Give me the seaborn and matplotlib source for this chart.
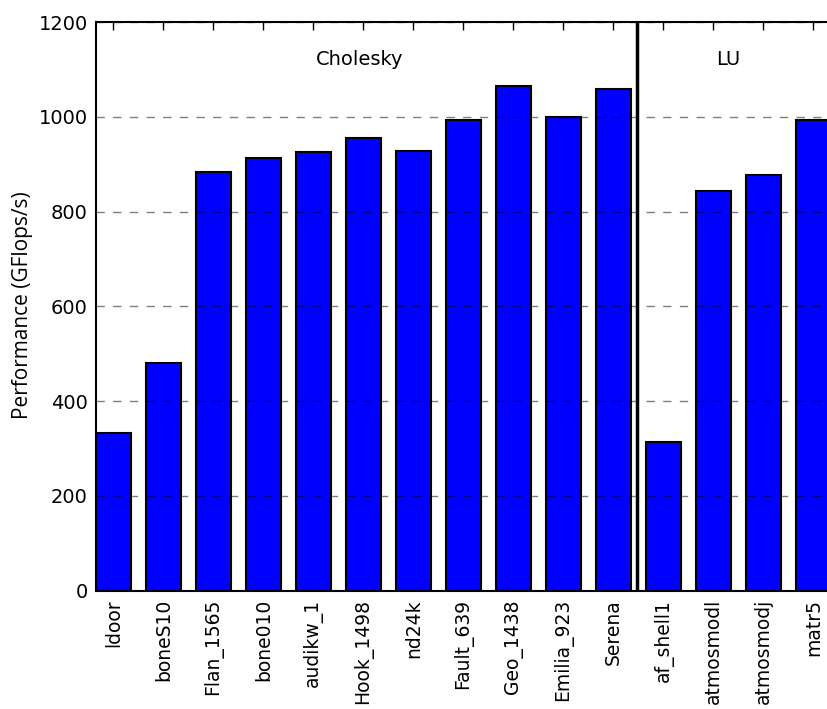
import matplotlib
matplotlib.use("Agg")
import matplotlib.pyplot as plt
import seaborn as sns

# matrices and measured performance (GFlops/s)
matrices = ['ldoor', 'boneS10', 'Flan_1565', 'bone010', 'audikw_1', 'Hook_1498',
            'nd24k', 'Fault_639', 'Geo_1438', 'Emilia_923', 'Serena',
            'af_shell1', 'atmosmodl', 'atmosmodj', 'matr5']
gflops = [332, 480, 884, 914, 926, 955, 928, 994, 1064, 999, 1059,
          313, 843, 877, 993]
yticks = [0, 200, 400, 600, 800, 1000, 1200]

sns.set_style("white")
plt.rcParams['font.family'] = ['DejaVu Sans']
plt.rcParams['text.color'] = 'black'
plt.rcParams['axes.labelcolor'] = 'black'
plt.rcParams['xtick.color'] = 'black'
plt.rcParams['ytick.color'] = 'black'

fig = plt.figure(figsize=(8.27, 7.09), dpi=100)
# axes run a bit past the right edge of the figure, as in the original
ax = fig.add_axes([96 / 827, 118.3 / 709, 742.5 / 827, 568.7 / 709])

sns.barplot(x=matrices, y=gflops, color='blue', saturation=1, width=0.7,
            edgecolor='black', linewidth=1.5, ax=ax)

ax.set_xlim(-0.346, 14.5)
ax.set_ylim(0, 1200)
ax.set_yticks(yticks)
ax.set_yticklabels([str(t) for t in yticks], fontsize=14)
ax.set_xticks(range(len(matrices)))
ax.set_xticklabels(matrices, rotation=90, fontsize=13.5)

ax.tick_params(direction='in', top=True, right=True, length=6, width=1, pad=6)
ax.grid(axis='y', color='black', alpha=0.5, linestyle=(0, (6, 6)), linewidth=1)
ax.grid(axis='x', visible=False)
ax.set_axisbelow(False)
for s in ax.spines.values():
    s.set_color('black')
    s.set_linewidth(1.5)

# separator between Cholesky and LU groups
ax.axvline(10.47, color='black', linewidth=2.5)
ax.text(4.93, 1120, 'Cholesky', ha='center', va='center', fontsize=14)
ax.text(12.3, 1120, 'LU', ha='center', va='center', fontsize=14)

ax.set_xlabel('')
ax.set_ylabel('Performance (GFlops/s)', fontsize=15, family='Open Sans')
ax.yaxis.set_label_coords(-0.085, 0.503)

fig.savefig('out.png', dpi=100)
